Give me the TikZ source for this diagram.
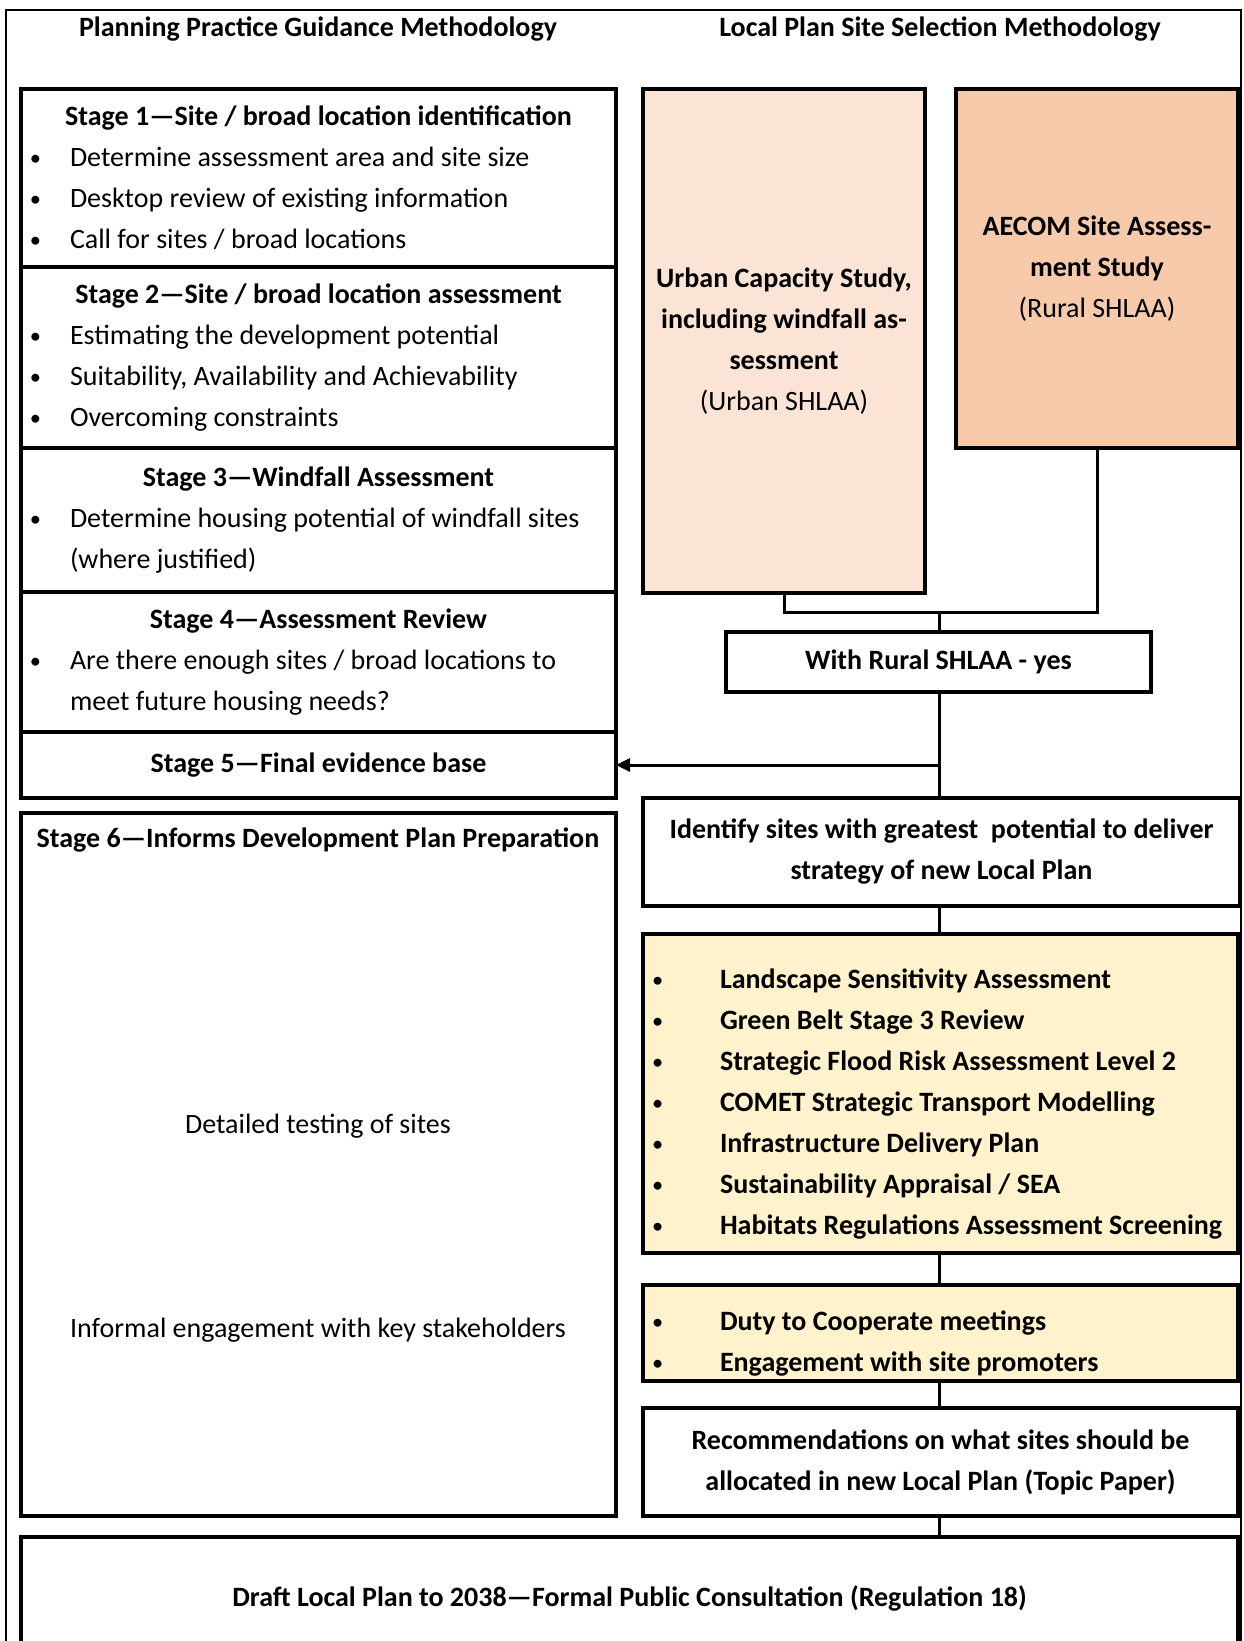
\documentclass[tikz,border=0pt]{standalone}
\usepackage{fontspec}
\usepackage{graphicx}
\setmainfont{Carlito}
\usetikzlibrary{positioning, arrows.meta}
\definecolor{urbanfill}{HTML}{FBE4D5}
\definecolor{ruralfill}{HTML}{F7CAAC}
\definecolor{testfill}{HTML}{FFF2CC}
\newcommand{\bul}[2][49pt]{\par\noindent\makebox[#1][l]{\hspace{9pt}\raisebox{0.1ex}{\scalebox{0.8}{\textbullet}}}%
  \parbox[t]{\dimexpr\linewidth-#1\relax}{\raggedright #2}}
\newcommand{\hd}[1]{{\centering\bfseries #1\par}}

\begin{document}
\begin{tikzpicture}[x=1pt, y=-1pt,
  every node/.style={font=\fontsize{28}{41}\selectfont},
  stagebox/.style={draw, line width=3.5pt, inner sep=0pt, outer sep=0pt, text width=595pt, minimum width=595pt, align=flush left},
  sidebox/.style={draw, line width=3.5pt, inner sep=0pt, outer sep=0pt, align=center},
  link/.style={line width=3pt}]
\useasboundingbox (0,0) rectangle (1243,1641);
\draw [line width=2pt] (6,1660) -- (6,10) -- (1241,10) -- (1241,1660);

\node (ltitle) at (318,29) {\bfseries Planning Practice Guidance Methodology};
\node (rtitle) at (940,29) {\bfseries Local Plan Site Selection Methodology};

% left column
\node [stagebox, minimum height=178pt] (stage1) at (318.5,178) {\hd{Stage 1---Site / broad location identification}
  \bul{Determine assessment area and site size}
  \bul{Desktop review of existing information}
  \bul{Call for sites / broad locations}};
\node [stagebox, minimum height=181pt, below=0pt of stage1] (stage2) {\hd{Stage 2---Site / broad location assessment}
  \bul{Estimating the development potential}
  \bul{Suitability, Availability and Achievability}
  \bul{Overcoming constraints}};
\node [stagebox, minimum height=144pt, below=0pt of stage2] (stage3) {\hd{Stage 3---Windfall Assessment}
  \bul{Determine housing potential of windfall sites\\(where justified)}};
\node [stagebox, minimum height=140pt, below=0pt of stage3] (stage4) {\hd{Stage 4---Assessment Review}
  \bul{Are there enough sites / broad locations to\\meet future housing needs?}};
\node [stagebox, minimum height=66pt, below=0pt of stage4] (stage5) {\hd{Stage 5---Final evidence base}};
\node [stagebox, minimum height=703pt, below=15pt of stage5] (stage6) {};
\node (s6head) at (318,840) {\bfseries Stage 6---Informs Development Plan Preparation};
\node (s6test) at (318,1126) {Detailed testing of sites};
\node (s6engage) at (318,1330) {Informal engagement with key stakeholders};

% right column
\node [sidebox, fill=urbanfill, minimum width=282pt, minimum height=504pt] (urban) at (784,341)
  {\bfseries Urban Capacity Study,\\\bfseries including windfall as-\\\bfseries sessment\\(Urban SHLAA)};
\node [sidebox, fill=ruralfill, minimum width=282pt, minimum height=359pt] (aecom) at (1097,268.5)
  {\bfseries AECOM Site Assess-\\\bfseries ment Study\\(Rural SHLAA)};
\coordinate (join) at (939,612);
\node [sidebox, minimum width=425pt, minimum height=60pt] (rural) at (938.5,662) {\bfseries With Rural SHLAA - yes};
\node [sidebox, minimum width=597pt, minimum height=108pt] (ident) at (941.5,852)
  {\bfseries Identify sites with greatest\ \ potential to deliver\\\bfseries strategy of new Local Plan};
\node [stagebox, fill=testfill, minimum height=319pt] (tests) at (940.5,1093.5)
  {\bul[77pt]{\bfseries Landscape Sensitivity Assessment}
   \bul[77pt]{\bfseries Green Belt Stage 3 Review}
   \bul[77pt]{\bfseries Strategic Flood Risk Assessment Level 2}
   \bul[77pt]{\bfseries COMET Strategic Transport Modelling}
   \bul[77pt]{\bfseries Infrastructure Delivery Plan}
   \bul[77pt]{\bfseries Sustainability Appraisal / SEA}
   \bul[77pt]{\bfseries Habitats Regulations Assessment Screening}};
\node [stagebox, fill=testfill, minimum height=96pt] (meetings) at (940.5,1333)
  {\bul[77pt]{\bfseries Duty to Cooperate meetings}
   \bul[77pt]{\bfseries Engagement with site promoters}};
\node [sidebox, minimum width=595pt, minimum height=108pt] (recs) at (940.5,1462)
  {\bfseries Recommendations on what sites should be\\\bfseries allocated in new Local Plan (Topic Paper)};
\node [sidebox, minimum width=1217pt, minimum height=123pt] (draft) at (629.5,1598.5)
  {\bfseries Draft Local Plan to 2038---Formal Public Consultation (Regulation 18)};

% connectors
\draw [link] (urban.south) -- (urban.south |- join) -- (aecom.south |- join) -- (aecom.south);
\draw [link] (join) -- (rural.north -| join);
\draw [link] (rural.south -| join) -- (ident.north -| join);
\coordinate (split) at (939,765);
\draw [link, -{Triangle[length=14pt, width=13pt]}] (split) -- (stage5.east |- split);
\draw [link] (ident.south -| join) -- (tests.north -| join);
\draw [link] (tests.south -| join) -- (meetings.north -| join);
\draw [link] (meetings.south -| join) -- (recs.north -| join);
\draw [link] (recs.south -| join) -- (draft.north -| join);
\end{tikzpicture}
\end{document}
